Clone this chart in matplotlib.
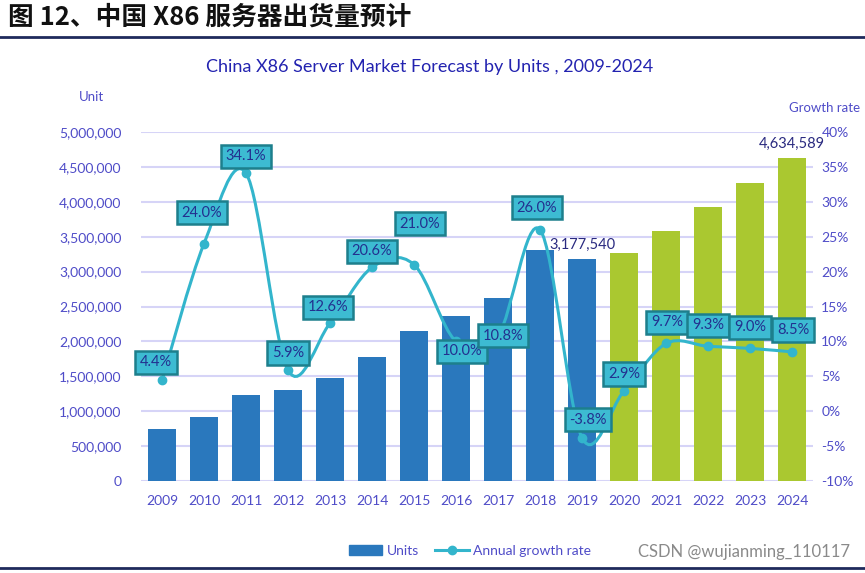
import matplotlib
matplotlib.use("Agg")
import matplotlib.pyplot as plt
from matplotlib.path import Path
from matplotlib.patches import PathPatch
from matplotlib.lines import Line2D
from matplotlib.ticker import FuncFormatter, MultipleLocator
import numpy as np

plt.rcParams['font.family'] = ['Lato', 'DejaVu Sans']

years = [2009, 2010, 2011, 2012, 2013, 2014, 2015, 2016,
         2017, 2018, 2019, 2020, 2021, 2022, 2023, 2024]
units = [743000, 922000, 1236000, 1309000, 1474000, 1778000, 2151000, 2366000,
         2621000, 3303000, 3177540, 3269689, 3586849, 3920426, 4273264, 4634589]
growth = [4.4, 24.0, 34.1, 5.9, 12.6, 20.6, 21.0, 10.0,
          10.8, 26.0, -3.8, 2.9, 9.7, 9.3, 9.0, 8.5]
forecast_from = 2020
# label offsets (pixels) of the growth-rate boxes relative to the points
label_dx = [-6, -2, 0, 0, -2, 0, 6, 6, 5, -3, 6, 0, 1, 0, 0, 1]
label_dy = [18, 31, 17, 17, 16, 16, 41, -10, 0, 22, 18, 17, 21, 21, 21, 22]

blue_bar = '#2a78bd'
green_bar = '#aac830'
line_col = '#33b5cc'
tick_col = '#4f4cc8'
grid_col = '#d6d4f7'

fig = plt.figure(figsize=(8.65, 5.73), dpi=100)
ax = fig.add_axes([141 / 865, 1 - 481 / 573, 672 / 865, 349 / 573])
ax2 = ax.twinx()

x = np.arange(len(years))
colors = [blue_bar if y < forecast_from else green_bar for y in years]
ax.bar(x, units, width=0.66, color=colors, zorder=2)

ax.set_ylim(0, 5000000)
ax.set_xlim(-0.5, len(years) - 0.5)
ax.yaxis.set_major_locator(MultipleLocator(500000))
ax.yaxis.set_major_formatter(FuncFormatter(lambda v, p: f'{int(v):,}'))
ax.grid(axis='y', color=grid_col, linewidth=1.5, zorder=0)
ax.set_axisbelow(True)
ax.set_xticks(x)
ax.set_xticklabels([str(y) for y in years])
for a in (ax, ax2):
    for s in a.spines.values():
        s.set_visible(False)
    a.tick_params(length=0, colors=tick_col, labelsize=10)
ax.tick_params(axis='x', pad=10)
ax.tick_params(axis='y', pad=14)
ax2.tick_params(axis='y', pad=6)

ax2.set_ylim(-10, 40)
ax2.yaxis.set_major_locator(MultipleLocator(5))
ax2.yaxis.set_major_formatter(FuncFormatter(lambda v, p: f'{int(v)}%'))

# smooth line like the spreadsheet's smoothed series (Bezier through points)
pts = np.column_stack([x, growth]).astype(float)
verts = [tuple(pts[0])]
codes = [Path.MOVETO]
n = len(pts)
for i in range(n - 1):
    p0 = pts[max(i - 1, 0)]
    p1 = pts[i]
    p2 = pts[i + 1]
    p3 = pts[min(i + 2, n - 1)]
    c1 = p1 + (p2 - p0) / 6
    c2 = p2 - (p3 - p1) / 6
    verts += [tuple(c1), tuple(c2), tuple(p2)]
    codes += [Path.CURVE4] * 3
ax2.add_patch(PathPatch(Path(verts, codes), facecolor='none',
                        edgecolor=line_col, linewidth=2.2, zorder=3))
ax2.plot(x, growth, 'o', color=line_col, markersize=6, zorder=4)

for i, g in enumerate(growth):
    ax2.annotate(f'{g:.1f}%', (x[i], g),
                 xytext=(label_dx[i] * 0.72, label_dy[i] * 0.72),
                 textcoords='offset points', ha='center', va='center',
                 fontsize=10.5, color='#23308f', zorder=6,
                 bbox=dict(boxstyle='square,pad=0.32', facecolor='#3dbbd2',
                           edgecolor='#1d7f8c', linewidth=1.8))

# value labels on 2019 and 2024 bars
for yr in (2019, 2024):
    i = years.index(yr)
    ax.annotate(f'{units[i]:,}', (x[i], units[i]), xytext=(0, 5),
                textcoords='offset points', ha='center', va='bottom',
                fontsize=10.5, color='#2a2a80', zorder=6)

fig.text(8 / 865, 1 - 17 / 573, '图 12、中国 X86 服务器出货量预计',
         family=['Noto Sans CJK SC', 'DejaVu Sans'], fontweight='bold',
         fontsize=18.5, va='center', ha='left', color='#111111')
fig.add_artist(Line2D([0, 1], [1 - 37 / 573] * 2, color='#1f2a5c', linewidth=2))
fig.add_artist(Line2D([0, 1], [1 - 568 / 573] * 2, color='#1f2a5c', linewidth=2))

fig.text(430 / 865, 1 - 67 / 573,
         'China X86 Server Market Forecast by Units , 2009-2024',
         ha='center', va='center', fontsize=13, color='#2323b0')
fig.text(92 / 865, 1 - 97 / 573, 'Unit', ha='center', va='center',
         fontsize=9.5, color=tick_col)
fig.text(825 / 865, 1 - 108 / 573, 'Growth rate', ha='center', va='center',
         fontsize=9.5, color=tick_col)

handles = [plt.Rectangle((0, 0), 1, 1, color=blue_bar),
           Line2D([], [], color=line_col, marker='o', linewidth=2.2, markersize=6)]
leg = fig.legend(handles, ['Units', 'Annual growth rate'], ncol=2,
                 loc='center', bbox_to_anchor=(470 / 865, 1 - 551 / 573),
                 frameon=False, fontsize=10, handlelength=2.4,
                 handletextpad=0.3, columnspacing=1.2)
for t in leg.get_texts():
    t.set_color(tick_col)

fig.text(850 / 865, 1 - 552 / 573, 'CSDN @wujianming_110117', ha='right',
         va='center', fontsize=12, color='#8a8a8a')

fig.savefig('out.png', dpi=100)
